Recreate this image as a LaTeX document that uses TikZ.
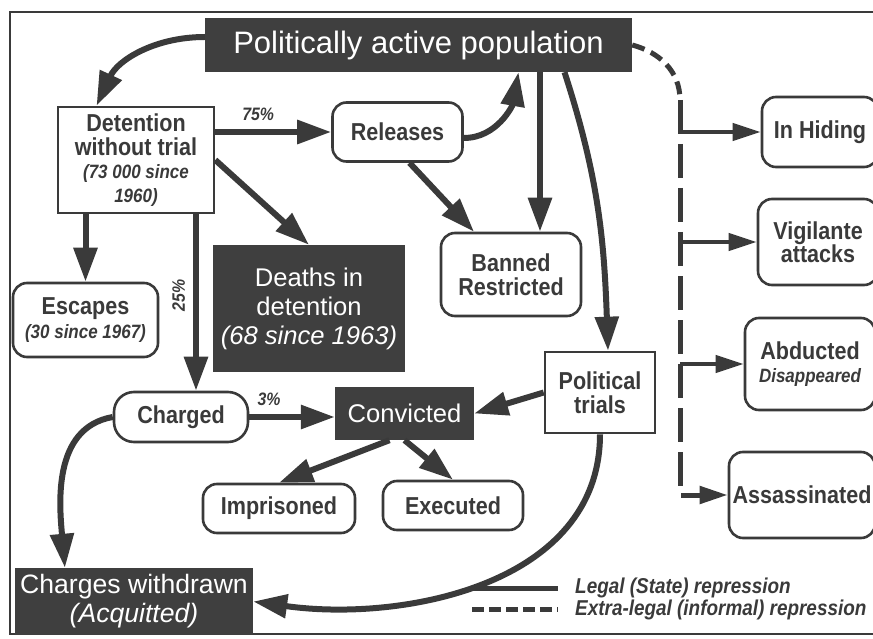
\documentclass[tikz,border=0pt]{standalone}
\usepackage{fontspec}
\setmainfont{Liberation Sans}
\newfontfamily\condfont{Liberation Sans}[FakeStretch=0.88]
\usepackage{tikz}
\usetikzlibrary{arrows.meta,positioning}
\definecolor{scanink}{HTML}{3A3A3A}
\definecolor{scanfill}{HTML}{3F3F3F}
\newcommand{\subtxt}[1]{{\fontsize{19.3}{20}\selectfont\itshape #1}}

\begin{document}
\begin{tikzpicture}[
    x=1pt,
    y=1pt,
    box/.style={rectangle, rounded corners=14pt, draw=scanink, line width=2.6pt, fill=white, align=center, inner sep=0pt, text=scanink, font=\condfont\fontsize{24.5}{23.5}\selectfont\bfseries},
    sqbox/.style={box, sharp corners},
    dark/.style={rectangle, fill=scanfill, text=white, align=center, inner sep=0pt, font=\fontsize{25.6}{29}\selectfont},
    legal/.style={-{Triangle[length=34pt,width=23pt]}, line width=6pt, draw=scanink},
    extra/.style={line width=5pt, draw=scanink, dash pattern=on 34pt off 10pt},
    branch/.style={-{Triangle[length=28pt,width=17pt]}, line width=4pt, draw=scanink},
    pct/.style={font=\condfont\fontsize{18}{20}\selectfont\bfseries\itshape, text=scanink},
    legtxt/.style={font=\condfont\fontsize{21.5}{23}\selectfont\bfseries\itshape, text=scanink, anchor=west, inner sep=0pt}
  ]
    \useasboundingbox (0,0) rectangle (873,-639);
    \draw[line width=2pt, draw=scanink] (880,-12) -- (10,-12) -- (10,-634) -- (880,-634);

    % state side
    \node[dark, minimum width=427pt, minimum height=54pt, font=\fontsize{31}{34}\selectfont] (pop) at (418.5,-45) {Politically active population};
    \node[sqbox, minimum width=156pt, minimum height=106pt] (det) at (136,-160) {Detention\\without trial\\\subtxt{(73 000 since}\\\subtxt{1960)}};
    \node[box, minimum width=130pt, minimum height=59pt] (rel) at (397.5,-132) {Releases};
    \node[box, minimum width=140pt, minimum height=83pt] (ban) at (511,-274.5) {Banned\\Restricted};
    \node[dark, minimum width=192pt, minimum height=127pt] (deaths) at (309,-308.5) {Deaths in\\detention\\\textit{(68 since 1963)}};
    \node[box, minimum width=145pt, minimum height=74pt] (esc) at (85.5,-320) {Escapes\\\subtxt{(30 since 1967)}};
    \node[box, rounded corners=20pt, minimum width=134pt, minimum height=50pt] (chg) at (181,-417) {Charged};
    \node[dark, minimum width=139pt, minimum height=53pt] (conv) at (404.5,-413.5) {Convicted};
    \node[sqbox, minimum width=110pt, minimum height=81pt] (pt) at (600,-392.5) {Political\\trials};
    \node[box, minimum width=152pt, minimum height=49pt] (imp) at (279,-508.5) {Imprisoned};
    \node[box, minimum width=140pt, minimum height=49pt] (exe) at (453,-505.5) {Executed};
    \node[dark, minimum width=238pt, minimum height=67pt, font=\fontsize{26.6}{29}\selectfont] (cw) at (134,-601.5) {Charges withdrawn\\\textit{(Acquitted)}};

    % extra-legal side
    \node[box, minimum width=116pt, minimum height=70pt] (hid) at (820,-132) {In Hiding};
    \node[box, minimum width=120pt, minimum height=86pt] (vig) at (818,-242) {Vigilante\\attacks};
    \node[box, minimum width=130pt, minimum height=92pt] (abd) at (810,-364) {Abducted\\\subtxt{Disappeared}};
    \node[box, minimum width=146pt, minimum height=86pt] (ass) at (802,-495) {Assassinated};

    \draw[legal] ([yshift=8pt]pop.west) to[out=180,in=65] (det.126);
    \draw[legal] (det.east |- rel.west) -- node[pct, above=5pt, pos=0.37] {75\%} (rel.west);
    \draw[legal] ([yshift=-6pt]rel.east) to[out=0,in=-100] ([xshift=100pt]pop.south);
    \draw[legal] ([xshift=29pt]ban.north |- pop.south) -- ([xshift=29pt]ban.north);
    \draw[legal] ([xshift=12pt]rel.south) -- ([xshift=-37pt]ban.north);
    \draw[legal] (det.east) -- (deaths.north);
    \draw[legal] ([xshift=146pt]pop.south) to[out=-72,in=92] ([xshift=8pt]pt.north);
    \draw[legal] (esc.north |- det.south) -- (esc.north);
    \draw[legal] ([xshift=15pt]chg.north |- det.south) -- node[pct, rotate=90, pos=0.46, anchor=south, inner sep=8pt] {25\%} ([xshift=15pt]chg.north);
    \draw[legal] (chg.east) -- node[pct, above=5pt, pos=0.23] {3\%} (chg.east -| conv.west);
    \draw[legal] (pt.west) -- (conv.east);
    \draw[legal] ([xshift=-15pt]conv.south) -- (imp.north);
    \draw[legal] (conv.south) -- (exe.north);
    \draw[legal] (chg.west) to[out=190,in=95] (cw.154);
    \draw[legal] (pt.south) to[out=-90,in=-8] (cw.east);

    \coordinate (bend) at (680,-100);
    \draw[extra, dash pattern=on 13pt off 7pt] (pop.east) to[out=-15,in=90] (bend);
    \draw[extra, -{Triangle[length=28pt,width=17pt]}] (bend) -- (bend |- ass.west) -- (ass.west);
    \draw[branch] (bend |- hid.west) -- (hid.west);
    \draw[branch] (bend |- vig.west) -- (vig.west);
    \draw[branch] (bend |- abd.west) -- (abd.west);

    % legend
    \coordinate (keylegal) at (472,-588);
    \coordinate (keyextra) at (472,-609);
    \draw[line width=5pt, draw=scanink] (keylegal) -- ++(86,0);
    \draw[line width=5pt, draw=scanink, dash pattern=on 12pt off 5pt] (keyextra) -- ++(86,0);
    \node[legtxt] (leglegal) at (575,-588) {Legal (State) repression};
    \node[legtxt] (legextra) at (575,-610) {Extra-legal (informal) repression};
  \end{tikzpicture}
\end{document}
